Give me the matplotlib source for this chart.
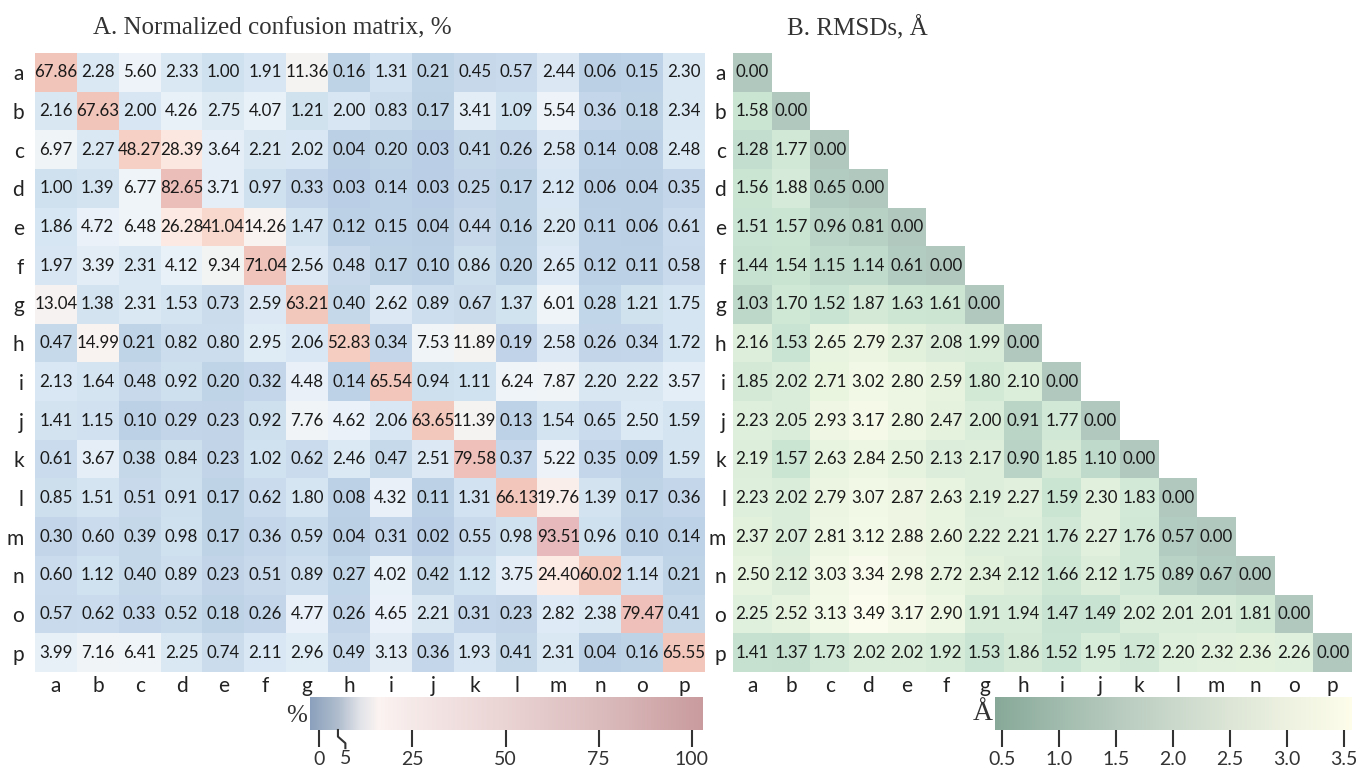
import numpy as np
import matplotlib
matplotlib.use('Agg')
import matplotlib.pyplot as plt
from matplotlib.colors import LinearSegmentedColormap, Normalize
from matplotlib.cm import ScalarMappable
import matplotlib.transforms as mtransforms

labels = list('abcdefghijklmnop')

# A. normalized confusion matrix, % (rows = true, cols = predicted)
conf = [
    [67.86, 2.28, 5.60, 2.33, 1.00, 1.91, 11.36, 0.16, 1.31, 0.21, 0.45, 0.57, 2.44, 0.06, 0.15, 2.30],
    [2.16, 67.63, 2.00, 4.26, 2.75, 4.07, 1.21, 2.00, 0.83, 0.17, 3.41, 1.09, 5.54, 0.36, 0.18, 2.34],
    [6.97, 2.27, 48.27, 28.39, 3.64, 2.21, 2.02, 0.04, 0.20, 0.03, 0.41, 0.26, 2.58, 0.14, 0.08, 2.48],
    [1.00, 1.39, 6.77, 82.65, 3.71, 0.97, 0.33, 0.03, 0.14, 0.03, 0.25, 0.17, 2.12, 0.06, 0.04, 0.35],
    [1.86, 4.72, 6.48, 26.28, 41.04, 14.26, 1.47, 0.12, 0.15, 0.04, 0.44, 0.16, 2.20, 0.11, 0.06, 0.61],
    [1.97, 3.39, 2.31, 4.12, 9.34, 71.04, 2.56, 0.48, 0.17, 0.10, 0.86, 0.20, 2.65, 0.12, 0.11, 0.58],
    [13.04, 1.38, 2.31, 1.53, 0.73, 2.59, 63.21, 0.40, 2.62, 0.89, 0.67, 1.37, 6.01, 0.28, 1.21, 1.75],
    [0.47, 14.99, 0.21, 0.82, 0.80, 2.95, 2.06, 52.83, 0.34, 7.53, 11.89, 0.19, 2.58, 0.26, 0.34, 1.72],
    [2.13, 1.64, 0.48, 0.92, 0.20, 0.32, 4.48, 0.14, 65.54, 0.94, 1.11, 6.24, 7.87, 2.20, 2.22, 3.57],
    [1.41, 1.15, 0.10, 0.29, 0.23, 0.92, 7.76, 4.62, 2.06, 63.65, 11.39, 0.13, 1.54, 0.65, 2.50, 1.59],
    [0.61, 3.67, 0.38, 0.84, 0.23, 1.02, 0.62, 2.46, 0.47, 2.51, 79.58, 0.37, 5.22, 0.35, 0.09, 1.59],
    [0.85, 1.51, 0.51, 0.91, 0.17, 0.62, 1.80, 0.08, 4.32, 0.11, 1.31, 66.13, 19.76, 1.39, 0.17, 0.36],
    [0.30, 0.60, 0.39, 0.98, 0.17, 0.36, 0.59, 0.04, 0.31, 0.02, 0.55, 0.98, 93.51, 0.96, 0.10, 0.14],
    [0.60, 1.12, 0.40, 0.89, 0.23, 0.51, 0.89, 0.27, 4.02, 0.42, 1.12, 3.75, 24.40, 60.02, 1.14, 0.21],
    [0.57, 0.62, 0.33, 0.52, 0.18, 0.26, 4.77, 0.26, 4.65, 2.21, 0.31, 0.23, 2.82, 2.38, 79.47, 0.41],
    [3.99, 7.16, 6.41, 2.25, 0.74, 2.11, 2.96, 0.49, 3.13, 0.36, 1.93, 0.41, 2.31, 0.04, 0.16, 65.55],
]

# B. RMSDs, angstrom (lower triangle incl. diagonal)
rmsd_rows = [
    [0.00],
    [1.58, 0.00],
    [1.28, 1.77, 0.00],
    [1.56, 1.88, 0.65, 0.00],
    [1.51, 1.57, 0.96, 0.81, 0.00],
    [1.44, 1.54, 1.15, 1.14, 0.61, 0.00],
    [1.03, 1.70, 1.52, 1.87, 1.63, 1.61, 0.00],
    [2.16, 1.53, 2.65, 2.79, 2.37, 2.08, 1.99, 0.00],
    [1.85, 2.02, 2.71, 3.02, 2.80, 2.59, 1.80, 2.10, 0.00],
    [2.23, 2.05, 2.93, 3.17, 2.80, 2.47, 2.00, 0.91, 1.77, 0.00],
    [2.19, 1.57, 2.63, 2.84, 2.50, 2.13, 2.17, 0.90, 1.85, 1.10, 0.00],
    [2.23, 2.02, 2.79, 3.07, 2.87, 2.63, 2.19, 2.27, 1.59, 2.30, 1.83, 0.00],
    [2.37, 2.07, 2.81, 3.12, 2.88, 2.60, 2.22, 2.21, 1.76, 2.27, 1.76, 0.57, 0.00],
    [2.50, 2.12, 3.03, 3.34, 2.98, 2.72, 2.34, 2.12, 1.66, 2.12, 1.75, 0.89, 0.67, 0.00],
    [2.25, 2.52, 3.13, 3.49, 3.17, 2.90, 1.91, 1.94, 1.47, 1.49, 2.02, 2.01, 2.01, 1.81, 0.00],
    [1.41, 1.37, 1.73, 2.02, 2.02, 1.92, 1.53, 1.86, 1.52, 1.95, 1.72, 2.20, 2.32, 2.36, 2.26, 0.00],
]

conf_ticks = [0, 25, 50, 75, 100]
rmsd_ticks = [0.5, 1.0, 1.5, 2.0, 2.5, 3.0, 3.5]


def node_cmap(nodes, vmin, vmax, name):
    # nodes: list of (value, colour)
    pos = [(v - vmin) / (vmax - vmin) for v, _ in nodes]
    return LinearSegmentedColormap.from_list(name, list(zip(pos, [c for _, c in nodes])), N=8192)


# cell colours
cmap_a = node_cmap([(0, '#bacfe5'), (0.3, '#c4d7ea'), (1.0, '#d0e1ef'), (2.0, '#d8e7f3'),
                    (4.0, '#e8f0f8'), (6.0, '#eff4f9'), (11, '#f4f4f3'), (15, '#f9f2f0'),
                    (25, '#fdebe5'), (41, '#f9d9ce'), (50, '#f6cfc3'), (67, '#f2c6bb'),
                    (80, '#eec0b9'), (94, '#e8b9bd'), (100, '#e5b6bb')], 0, 100, 'conf')
cmap_b = node_cmap([(0, '#b0c8be'), (0.7, '#b4cdc2'), (1.0, '#bdd8c9'), (1.5, '#c9e4d2'),
                    (2.0, '#d9edda'), (2.5, '#e6f3de'), (3.0, '#f1f8e5'), (3.5, '#fcfdef')],
                   0, 3.5, 'rmsd')
# colour bar gradients (drawn more muted in the reference)
cb_a = node_cmap([(-2.5, '#8aa0bc'), (5, '#afbccd'), (11, '#e1e3e8'), (16, '#fbf3f1'),
                  (25, '#f5e9e8'), (50, '#ead3d3'), (75, '#dbbcbd'), (103, '#c99b9e')],
                 -2.5, 103, 'cba')
cb_b = node_cmap([(0.44, '#87a898'), (1.0, '#a0bbad'), (1.5, '#b6cabd'), (2.0, '#c9d8cb'),
                  (2.5, '#dce5d6'), (3.0, '#edf1e0'), (3.57, '#fdfdea')], 0.44, 3.57, 'cbb')

sans = 'Lato'
serif = 'Liberation Serif'

fig = plt.figure(figsize=(13.57, 7.67), dpi=100)
W, H = 1357, 767


def box(x0, y0, x1, y1):
    return [x0 / W, 1 - y1 / H, (x1 - x0) / W, (y1 - y0) / H]


n = len(labels)
A = np.array(conf)
B = np.full((n, n), np.nan)
for i, row in enumerate(rmsd_rows):
    B[i, :len(row)] = row

axA = fig.add_axes(box(35, 53, 705, 672))
axA.imshow(A, cmap=cmap_a, norm=Normalize(0, 100), aspect='auto', interpolation='nearest')
for i in range(n):
    for j in range(n):
        axA.text(j, i, '%.2f' % A[i, j], ha='center', va='center', fontsize=12.2,
                 family=sans, color='#1a1a1a')

axB = fig.add_axes(box(733, 53, 1352, 672))
axB.imshow(np.ma.masked_invalid(B), cmap=cmap_b, norm=Normalize(0, 3.5), aspect='auto',
           interpolation='nearest')
for i in range(n):
    for j in range(i + 1):
        axB.text(j, i, '%.2f' % B[i, j], ha='center', va='center', fontsize=12.2,
                 family=sans, color='#1a1a1a')

for ax, pad in ((axA, 8), (axB, 5)):
    ax.set_xticks(range(n))
    ax.set_xticklabels(labels, family=sans, fontsize=15, color='#222222')
    ax.set_yticks(range(n))
    ax.set_yticklabels(labels, family=sans, fontsize=15, color='#222222')
    ax.tick_params(length=0, pad=pad)
    ax.tick_params(axis='x', pad=3)
    for s in ax.spines.values():
        s.set_visible(False)

fig.text(93 / W, 1 - 28 / H, 'A. Normalized confusion matrix, %', family=serif,
         fontsize=18, color='#333333', va='center', ha='left')
fig.text(787 / W, 1 - 28 / H, 'B. RMSDs, Å', family=serif,
         fontsize=18, color='#333333', va='center', ha='left')

# colour bars
caxA = fig.add_axes(box(310, 697, 703, 730))
cbA = fig.colorbar(ScalarMappable(norm=Normalize(-2.5, 103), cmap=cb_a), cax=caxA,
                   orientation='horizontal', ticks=conf_ticks)
caxB = fig.add_axes(box(995, 697, 1352, 730))
cbB = fig.colorbar(ScalarMappable(norm=Normalize(0.44, 3.57), cmap=cb_b), cax=caxB,
                   orientation='horizontal', ticks=rmsd_ticks)
cbB.ax.set_xticklabels(['%.1f' % t for t in rmsd_ticks])

for cb in (cbA, cbB):
    cb.outline.set_visible(False)
    cb.ax.tick_params(length=12, width=1.5, color='#333333', pad=3,
                      labelsize=14, labelcolor='#333333')
    for t in cb.ax.get_xticklabels():
        t.set_family(sans)

# the bent tick for 5 %
trans = mtransforms.blended_transform_factory(caxA.transData, caxA.transAxes)
caxA.plot([5, 5, 7, 7], [0, -0.2, -0.4, -0.55], color='#333333', lw=1.5,
          transform=trans, clip_on=False)
caxA.text(7, -0.62, '5', transform=trans, ha='center', va='top', family=sans,
          fontsize=14, color='#333333')

fig.text(307 / W, 1 - 716 / H, '%', family=serif, fontsize=18, color='#333333',
         ha='right', va='center')
fig.text(993 / W, 1 - 714 / H, 'Å', family=serif, fontsize=20, color='#333333',
         ha='right', va='center')

fig.savefig('out.png', dpi=100)
